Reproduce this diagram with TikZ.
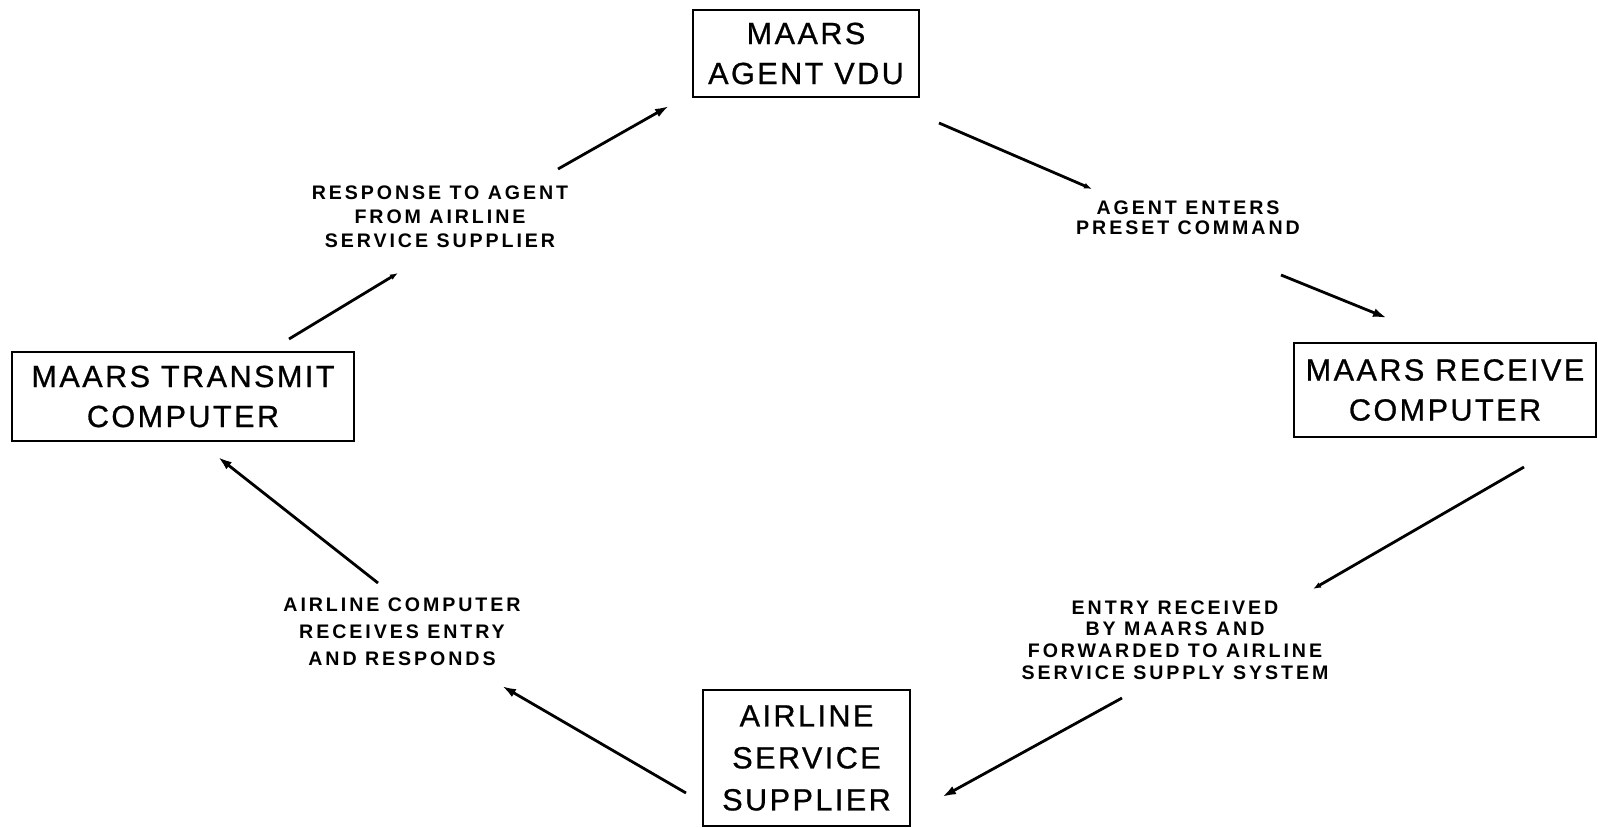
\documentclass[tikz,border=0pt]{standalone}
\usepackage{fontspec}
\setmainfont{Liberation Sans}
\newfontfamily\boxfam[LetterSpace=8,FakeBold=0.8]{Liberation Sans}
\newfontfamily\labfam[LetterSpace=15]{Liberation Sans}
\newcommand\boxfont{\boxfam\fontsize{15.3}{20}\selectfont}
\newcommand\labsize[1]{\labfam\bfseries\fontsize{9.8}{#1}\selectfont}
\usetikzlibrary{arrows.meta}
\begin{document}
\begin{tikzpicture}[x=0.5pt,y=-0.5pt,
  box/.style={draw,line width=1.1pt,align=center,inner sep=0pt,font=\boxfont},
  lab/.style={align=center,inner sep=0pt,font=\labsize{12}},
  conn/.style={line width=1.4pt,-{Latex[length=7pt,width=4.5pt]}},
  minor/.style={line width=1.4pt,-{Latex[length=4pt,width=3pt]}}]
\useasboundingbox (0,0) rectangle (1598,828);
% boxes
\node[box,minimum width=113pt,minimum height=43.5pt] (vdu) at (806,53.5) {MAARS\\AGENT VDU};
\node[box,minimum width=171pt,minimum height=44.5pt] (tx) at (183,396.5) {MAARS TRANSMIT\\COMPUTER};
\node[box,minimum width=151pt,minimum height=47pt] (rx) at (1445,390) {MAARS RECEIVE\\COMPUTER};
\node[box,minimum width=103.5pt,minimum height=68pt,font={\boxfam\fontsize{15.3}{21}\selectfont}] (ass) at (806.5,758) {AIRLINE\\SERVICE\\SUPPLIER};
% labels
\node[lab] (l1) at (440,217) {RESPONSE TO AGENT\\FROM AIRLINE\\SERVICE SUPPLIER};
\node[lab,font=\labsize{10}] (l2) at (1188,218) {AGENT ENTERS\\PRESET COMMAND};
\node[lab,font=\labsize{13.5}] (l3) at (402,632) {AIRLINE COMPUTER\\RECEIVES ENTRY\\AND RESPONDS};
\node[lab,font=\labsize{10.8}] (l4) at (1175,640) {ENTRY RECEIVED\\BY MAARS AND\\FORWARDED TO AIRLINE\\SERVICE SUPPLY SYSTEM};
% connector end points
\coordinate (c1a) at (939,123);  \coordinate (c1b) at (1092,189);
\coordinate (c1c) at (1281,275); \coordinate (c1d) at (1387,318);
\coordinate (c2a) at (1524,467); \coordinate (c2b) at (1313,589);
\coordinate (c2c) at (1122,698); \coordinate (c2d) at (942,797);
\coordinate (c3a) at (686,793);  \coordinate (c3b) at (502,686);
\coordinate (c3c) at (378,583);  \coordinate (c3d) at (218,457);
\coordinate (c4a) at (289,339);  \coordinate (c4b) at (398,273);
\coordinate (c4c) at (558,169);  \coordinate (c4d) at (669,106);
% connectors
\draw[minor] (c1a) -- (c1b);
\draw[conn] (c1c) -- (c1d);
\draw[minor] (c2a) -- (c2b);
\draw[conn] (c2c) -- (c2d);
\draw[conn] (c3a) -- (c3b);
\draw[conn] (c3c) -- (c3d);
\draw[minor] (c4a) -- (c4b);
\draw[conn] (c4c) -- (c4d);
\end{tikzpicture}
\end{document}
